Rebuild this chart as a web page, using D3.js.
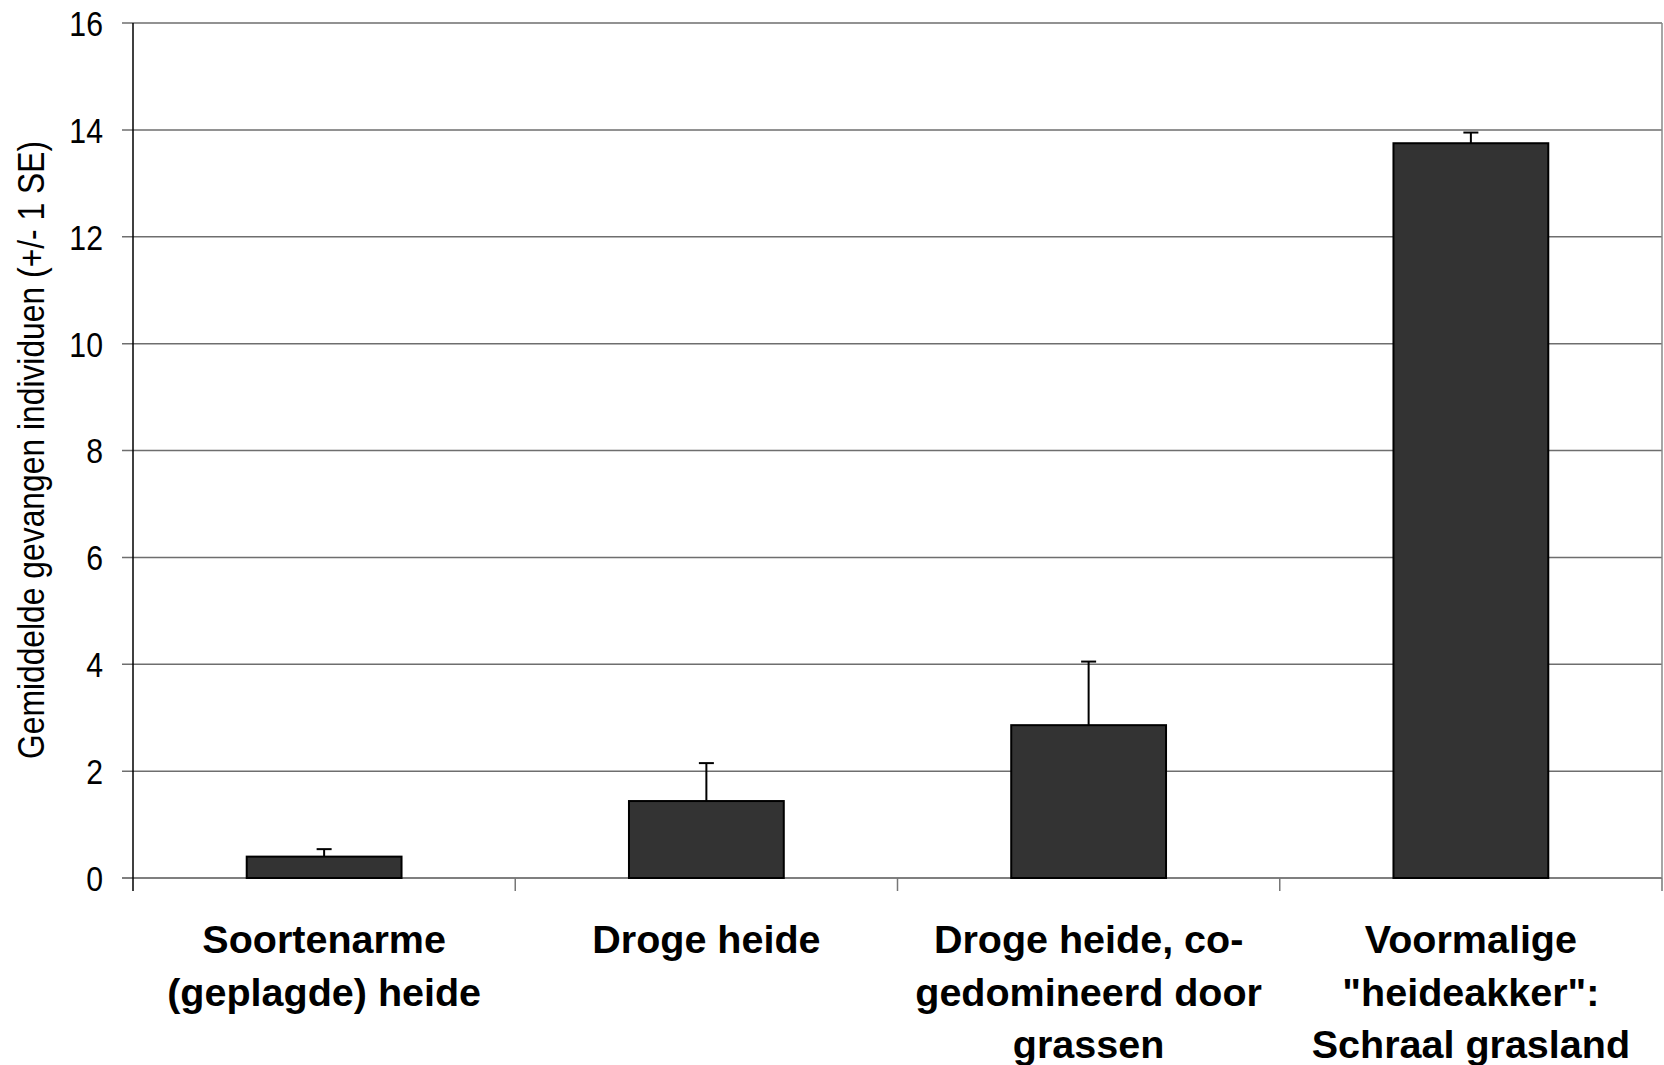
<!DOCTYPE html>
<html>
<head>
<meta charset="utf-8">
<script src="https://cdn.jsdelivr.net/npm/d3@7"></script>
<style>
  body { margin: 0; background: #fff; }
  .tick-label, .y-title { font-family: "Liberation Sans", Arial, sans-serif; }
  .cat-label { font-family: "Liberation Sans", Arial, sans-serif; font-weight: bold; }
</style>
</head>
<body>
<div id="chart"></div>
<script>
const categories = [
  "Soortenarme (geplagde) heide",
  "Droge heide",
  "Droge heide, co-gedomineerd door grassen",
  "Voormalige \"heideakker\": Schraal grasland"
];
const categoryLines = [
  ["Soortenarme", "(geplagde) heide"],
  ["Droge heide"],
  ["Droge heide, co-", "gedomineerd door", "grassen"],
  ["Voormalige", "\"heideakker\":", "Schraal grasland"]
];
const means = [0.40, 1.44, 2.86, 13.75];
const errors = [0.14, 0.71, 1.19, 0.20];
const yTicks = [0, 2, 4, 6, 8, 10, 12, 14, 16];
const yTitle = "Gemiddelde gevangen individuen (+/- 1 SE)";

const width = 1664, height = 1065;
const margin = { top: 23, right: 2, bottom: 187, left: 133 };
// condensed look: squeeze regular text horizontally
const narrow = 0.84;

const svg = d3.select("#chart").append("svg")
  .attr("width", width)
  .attr("height", height);

const x = d3.scaleBand()
  .domain(categories)
  .range([margin.left, width - margin.right]);

const y = d3.scaleLinear()
  .domain([0, 16])
  .range([height - margin.bottom, margin.top]);

const barW = x.bandwidth() * 0.405;

// gridlines
svg.append("g")
  .selectAll("line")
  .data(yTicks)
  .join("line")
  .attr("x1", margin.left - 11)
  .attr("x2", width - margin.right)
  .attr("y1", d => y(d))
  .attr("y2", d => y(d))
  .attr("stroke", d => d === 0 ? "#555" : "#6e6e6e")
  .attr("stroke-width", 1.5);

// right border
svg.append("line")
  .attr("x1", width - margin.right).attr("x2", width - margin.right)
  .attr("y1", y(16)).attr("y2", y(0))
  .attr("stroke", "#888").attr("stroke-width", 1.5);

// y tick labels
svg.append("g")
  .selectAll("text")
  .data(yTicks)
  .join("text")
  .attr("class", "tick-label")
  .attr("transform", d => `translate(${margin.left - 30},${y(d)}) scale(${narrow},1)`)
  .attr("dy", "0.36em")
  .attr("text-anchor", "end")
  .style("font-size", "36px")
  .attr("fill", "#000")
  .text(d => d);

// x category separators
svg.append("g")
  .selectAll("line")
  .data(categories.slice(1).concat([null]))
  .join("line")
  .attr("x1", d => d ? x(d) : width - margin.right)
  .attr("x2", d => d ? x(d) : width - margin.right)
  .attr("y1", y(0))
  .attr("y2", y(0) + 13)
  .attr("stroke", "#777")
  .attr("stroke-width", 1.5);

// bars
svg.append("g")
  .selectAll("rect")
  .data(means)
  .join("rect")
  .attr("x", (d, i) => x(categories[i]) + x.bandwidth() / 2 - barW / 2)
  .attr("y", d => y(d))
  .attr("width", barW)
  .attr("height", d => y(0) - y(d))
  .attr("fill", "#333333")
  .attr("stroke", "#000")
  .attr("stroke-width", 2);

// error bars
const eb = svg.append("g")
  .selectAll("g")
  .data(means)
  .join("g");
eb.append("line")
  .attr("x1", (d, i) => x(categories[i]) + x.bandwidth() / 2)
  .attr("x2", (d, i) => x(categories[i]) + x.bandwidth() / 2)
  .attr("y1", d => y(d))
  .attr("y2", (d, i) => y(d + errors[i]))
  .attr("stroke", "#000")
  .attr("stroke-width", 2);
eb.append("line")
  .attr("x1", (d, i) => x(categories[i]) + x.bandwidth() / 2 - 7.5)
  .attr("x2", (d, i) => x(categories[i]) + x.bandwidth() / 2 + 7.5)
  .attr("y1", (d, i) => y(d + errors[i]))
  .attr("y2", (d, i) => y(d + errors[i]))
  .attr("stroke", "#000")
  .attr("stroke-width", 2);

// y axis line
svg.append("line")
  .attr("x1", margin.left).attr("x2", margin.left)
  .attr("y1", y(16)).attr("y2", y(0) + 13)
  .attr("stroke", "#000").attr("stroke-width", 1.5);

// category labels
svg.append("g")
  .selectAll("text")
  .data(categoryLines)
  .join("text")
  .attr("class", "cat-label")
  .attr("text-anchor", "middle")
  .style("font-size", "39.5px")
  .attr("fill", "#000")
  .each(function(lines, i) {
    d3.select(this).selectAll("tspan")
      .data(lines)
      .join("tspan")
      .attr("x", x(categories[i]) + x.bandwidth() / 2)
      .attr("y", (l, j) => 953 + j * 52.5)
      .text(l => l);
  });

// y title
svg.append("text")
  .attr("class", "y-title")
  .attr("transform", `translate(44, 450) rotate(-90) scale(0.86,1)`)
  .attr("text-anchor", "middle")
  .style("font-size", "37px")
  .attr("fill", "#000")
  .text(yTitle);
</script>
</body>
</html>
